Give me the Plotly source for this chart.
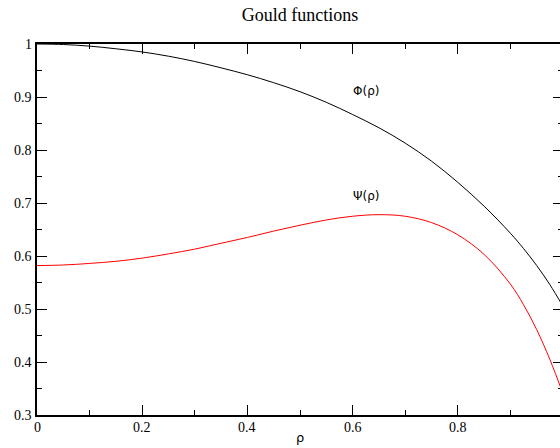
import plotly.graph_objects as go

rho = [0.0, 0.05, 0.1, 0.15, 0.2, 0.25, 0.3, 0.35, 0.4, 0.45, 0.5, 0.55, 0.6,
       0.65, 0.7, 0.75, 0.8, 0.85, 0.9, 0.925, 0.95, 0.975, 1.0]
phi = [1.000, 0.999, 0.996, 0.991, 0.985, 0.977, 0.967, 0.955, 0.942, 0.927, 0.910,
       0.890, 0.867, 0.842, 0.813, 0.779, 0.739, 0.694, 0.643, 0.614, 0.582, 0.546, 0.505]
psi = [0.582, 0.583, 0.586, 0.590, 0.596, 0.604, 0.613, 0.624, 0.635, 0.647, 0.658,
       0.668, 0.675, 0.678, 0.675, 0.663, 0.640, 0.603, 0.547, 0.508, 0.461, 0.405, 0.340]

x_ticks = [0, 0.2, 0.4, 0.6, 0.8]
x_labels = ["0", "0.2", "0.4", "0.6", "0.8"]
y_ticks = [0.3, 0.4, 0.5, 0.6, 0.7, 0.8, 0.9, 1.0]
y_labels = ["0.3", "0.4", "0.5", "0.6", "0.7", "0.8", "0.9", "1"]

SERIF = "Liberation Serif"
SANS = "DejaVu Sans"

fig = go.Figure()
fig.add_trace(go.Scatter(x=rho, y=phi, mode="lines", name="Φ(ρ)",
                         line=dict(color="black", width=1, shape="spline", smoothing=1.0)))
fig.add_trace(go.Scatter(x=rho, y=psi, mode="lines", name="Ψ(ρ)",
                         line=dict(color="red", width=1, shape="spline", smoothing=1.0)))

fig.add_annotation(x=0.625, y=0.911, text="Φ(ρ)", showarrow=False,
                   font=dict(family=SANS, size=12, color="black"))
fig.add_annotation(x=0.625, y=0.713, text="Ψ(ρ)", showarrow=False,
                   font=dict(family=SANS, size=12, color="black"))

# tick labels as serif text placed on the axes' own scales
for v, t in zip(x_ticks, x_labels):
    fig.add_annotation(x=v, y=0, xref="x", yref="paper", text=t, showarrow=False,
                       xanchor="center", yanchor="top", yshift=-3,
                       font=dict(family=SERIF, size=14, color="black"))
for v, t in zip(y_ticks, y_labels):
    fig.add_annotation(x=0, y=v, xref="paper", yref="y", text=t, showarrow=False,
                       xanchor="right", yanchor="middle", xshift=-3,
                       font=dict(family=SERIF, size=14, color="black"))
# axis title
fig.add_annotation(x=0.5, y=0, xref="paper", yref="paper", text="ρ", showarrow=False,
                   xanchor="center", yanchor="middle", yshift=-22,
                   font=dict(family=SANS, size=13, color="black"))

xaxis = dict(range=[0, 1], tickmode="array", tickvals=x_ticks, showticklabels=False,
             showline=True, linecolor="black", linewidth=1.5, mirror="ticks",
             ticks="inside", ticklen=10, tickwidth=1, tickcolor="black",
             showgrid=False, zeroline=False,
             minor=dict(ticks="inside", ticklen=5, tickwidth=1, tickcolor="black",
                        tickvals=[0.1, 0.3, 0.5, 0.7, 0.9], showgrid=False))
yaxis = dict(range=[0.3, 1.0], tickmode="array", tickvals=y_ticks, showticklabels=False,
             showline=True, linecolor="black", linewidth=1.5, mirror="ticks",
             ticks="inside", ticklen=10, tickwidth=1, tickcolor="black",
             showgrid=False, zeroline=False,
             minor=dict(ticks="inside", ticklen=5, tickwidth=1, tickcolor="black",
                        tickvals=[0.35, 0.45, 0.55, 0.65, 0.75, 0.85, 0.95], showgrid=False))

fig.update_layout(
    xaxis=xaxis, yaxis=yaxis,
    width=566, height=448,
    margin=dict(l=37, r=3, t=44, b=33, autoexpand=False),
    paper_bgcolor="white", plot_bgcolor="white",
    showlegend=False,
    font=dict(family=SERIF, size=14, color="black"),
    title=dict(text="Gould functions", x=300 / 566, xanchor="center",
               y=1 - 15 / 448, yanchor="middle", yref="container", xref="container",
               font=dict(family=SERIF, size=18, color="black")),
)

fig.write_html("out.html",
               post_script="document.body.style.overflow='hidden';document.documentElement.style.overflow='hidden';")
